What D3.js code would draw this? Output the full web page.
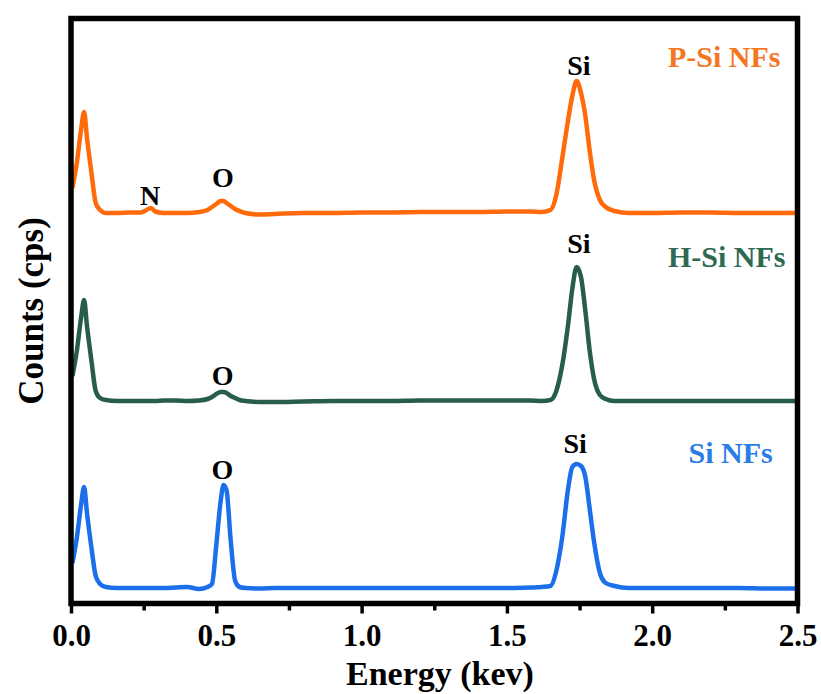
<!DOCTYPE html>
<html>
<head>
<meta charset="utf-8">
<script src="https://cdn.jsdelivr.net/npm/d3@7"></script>
<style>
  body { margin: 0; background: #fff; }
  text { font-family: "Liberation Serif", "Times New Roman", serif; font-weight: bold; }
</style>
</head>
<body>
<svg width="821" height="694"></svg>
<script>
// energy grid (keV) shared by all three spectra
const energy = [0.005, 0.02, 0.035, 0.045, 0.055, 0.07, 0.085, 0.10, 0.12,
  0.16, 0.20, 0.24, 0.26, 0.275, 0.29, 0.32, 0.36, 0.40, 0.44, 0.47,
  0.485, 0.50, 0.515, 0.525, 0.535, 0.55, 0.565, 0.58, 0.60, 0.65,
  0.70, 0.80, 0.90, 1.00, 1.10, 1.20, 1.30, 1.40, 1.50, 1.58,
  1.62, 1.65, 1.67, 1.69, 1.71, 1.725, 1.74, 1.755, 1.77, 1.785,
  1.80, 1.82, 1.84, 1.87, 1.92, 2.00, 2.10, 2.20, 2.30, 2.40, 2.50];

// counts above each spectrum's own baseline (arb. cps)
const pSiCounts = [25, 50, 84, 101, 75, 41, 10, 3, 0,
  0, 0.5, 0.5, 3, 5, 1.5, 0, 0, 0, 1, 3,
  6, 9, 12, 12, 10, 7, 4, 2, 0, -1.5,
  -1, 0, 0, 0.5, 0.5, 1, 1, 1, 1.5, 1.5,
  1, 3, 18, 54, 92, 117, 132, 120, 97, 62,
  33, 13, 6, 2, 0, 0, 0.5, 0.5, 0, 0, 0];
const hSiCounts = [25, 50, 84, 101, 75, 41, 10, 3, 1,
  0, 0, 0, 0, 0, 0, 0.5, 0.5, 0, 0.5, 2,
  4, 7, 9, 9, 8, 5, 3, 1, 0, -1,
  -1, -0.5, 0, 0, 0, 0.5, 0.5, 0.5, 0.5, 0.5,
  0, 1, 10, 35, 75, 112, 134, 124, 90, 50,
  22, 6, 2, 0, 0, 0, 0, 0, 0, 0, 0];
const siCounts = [25, 50, 84, 101, 75, 41, 12, 4, 1,
  0, 0, 0, 0, 0, 0, 0, 0.5, 1, -1, 1,
  4, 43, 87, 103, 98, 46, 7, 1, 0, -0.5,
  0, 0, 0, 0, 0, 0, 0, 0, 0, 0.5,
  1, 2, 17, 50, 98, 121, 124, 122, 111, 79,
  46, 15, 5, 2, 0, 0, 0, 0, 0, -0.5, -0.5];

const seriesNames = ["Si NFs", "H-Si NFs", "P-Si NFs"];
const seriesCounts = [siCounts, hSiCounts, pSiCounts];
const seriesOffsets = [15.5, 202.5, 390.5];   // vertical stacking of the spectra
const lineColors = ["#1B6FEA", "#285E48", "#FF6A0A"];
const nameColors = ["#2A7CE6", "#2E6A52", "#F4761F"];
const nameEnergy = [2.125, 2.054, 2.054];
const nameLevel = [140.5, 336.5, 536.5];

// element labels: series index, text, energy, height above baseline
const peakSeries = [2, 2, 2, 1, 1, 0, 0];
const peakText = ["N", "O", "Si", "O", "Si", "O", "Si"];
const peakEnergy = [0.272, 0.523, 1.748, 0.522, 1.748, 0.521, 1.735];
const peakLevel = [8, 26, 138, 16, 148, 109, 135];

const xTicks = [0, 0.5, 1.0, 1.5, 2.0, 2.5];
const xMinor = [0.25, 0.75, 1.25, 1.75, 2.25];

var svg = d3.select("svg");

var x = d3.scaleLinear().domain([0, 2.5]).range([71, 797.5]);
var y = d3.scaleLinear().domain([0, 585]).range([603.5, 18.5]);

const plot = svg.append("g");

plot.append("clipPath").attr("id", "clip")
  .append("rect")
    .attr("x", x(0)).attr("y", y(585))
    .attr("width", x(2.5) - x(0)).attr("height", y(0) - y(585));

seriesNames.forEach((name, i) => {
  const line = d3.line()
    .x((d, j) => x(energy[j]))
    .y(d => y(d + seriesOffsets[i]))
    .curve(d3.curveMonotoneX);
  plot.append("path")
    .datum(seriesCounts[i])
    .attr("d", line)
    .attr("clip-path", "url(#clip)")
    .attr("fill", "none")
    .attr("stroke", lineColors[i])
    .attr("stroke-width", 4.5)
    .attr("stroke-linejoin", "round");

  plot.append("text")
    .attr("x", x(nameEnergy[i]))
    .attr("y", y(nameLevel[i]))
    .attr("fill", nameColors[i])
    .style("font-size", "30px")
    .text(name);
});

peakText.forEach((t, k) => {
  plot.append("text")
    .attr("x", x(peakEnergy[k]))
    .attr("y", y(peakLevel[k] + seriesOffsets[peakSeries[k]]))
    .attr("text-anchor", "middle")
    .attr("fill", "#000")
    .style("font-size", "28px")
    .text(t);
});

// x axis
const xAxis = svg.append("g")
  .attr("transform", `translate(0,${y(0)})`)
  .call(d3.axisBottom(x).tickValues(xTicks).tickSize(10).tickFormat(d3.format(".1f")));
xAxis.select(".domain").remove();
xAxis.selectAll(".tick line").attr("stroke", "#000").attr("stroke-width", 3.5);
xAxis.selectAll(".tick text")
  .attr("y", 42).attr("dy", 0)
  .attr("fill", "#000")
  .style("font-size", "31px")
  .style("font-family", "'Liberation Serif', serif")
  .style("font-weight", "bold");

svg.append("g")
  .attr("transform", `translate(0,${y(0)})`)
  .call(d3.axisBottom(x).tickValues(xMinor).tickSize(7).tickFormat(""))
  .call(g => g.select(".domain").remove())
  .selectAll(".tick line").attr("stroke", "#000").attr("stroke-width", 3.5);

// frame
svg.append("rect")
  .attr("x", x(0)).attr("y", y(585))
  .attr("width", x(2.5) - x(0)).attr("height", y(0) - y(585))
  .attr("fill", "none")
  .attr("stroke", "#000")
  .attr("stroke-width", 5.5);

svg.append("text")
  .attr("x", 440)
  .attr("y", 685)
  .attr("text-anchor", "middle")
  .style("font-size", "34px")
  .text("Energy (kev)");

svg.append("text")
  .attr("transform", `translate(43,${(y(0) + y(585)) / 2}) rotate(-90)`)
  .attr("text-anchor", "middle")
  .style("font-size", "35px")
  .text("Counts (cps)");
</script>
</body>
</html>
